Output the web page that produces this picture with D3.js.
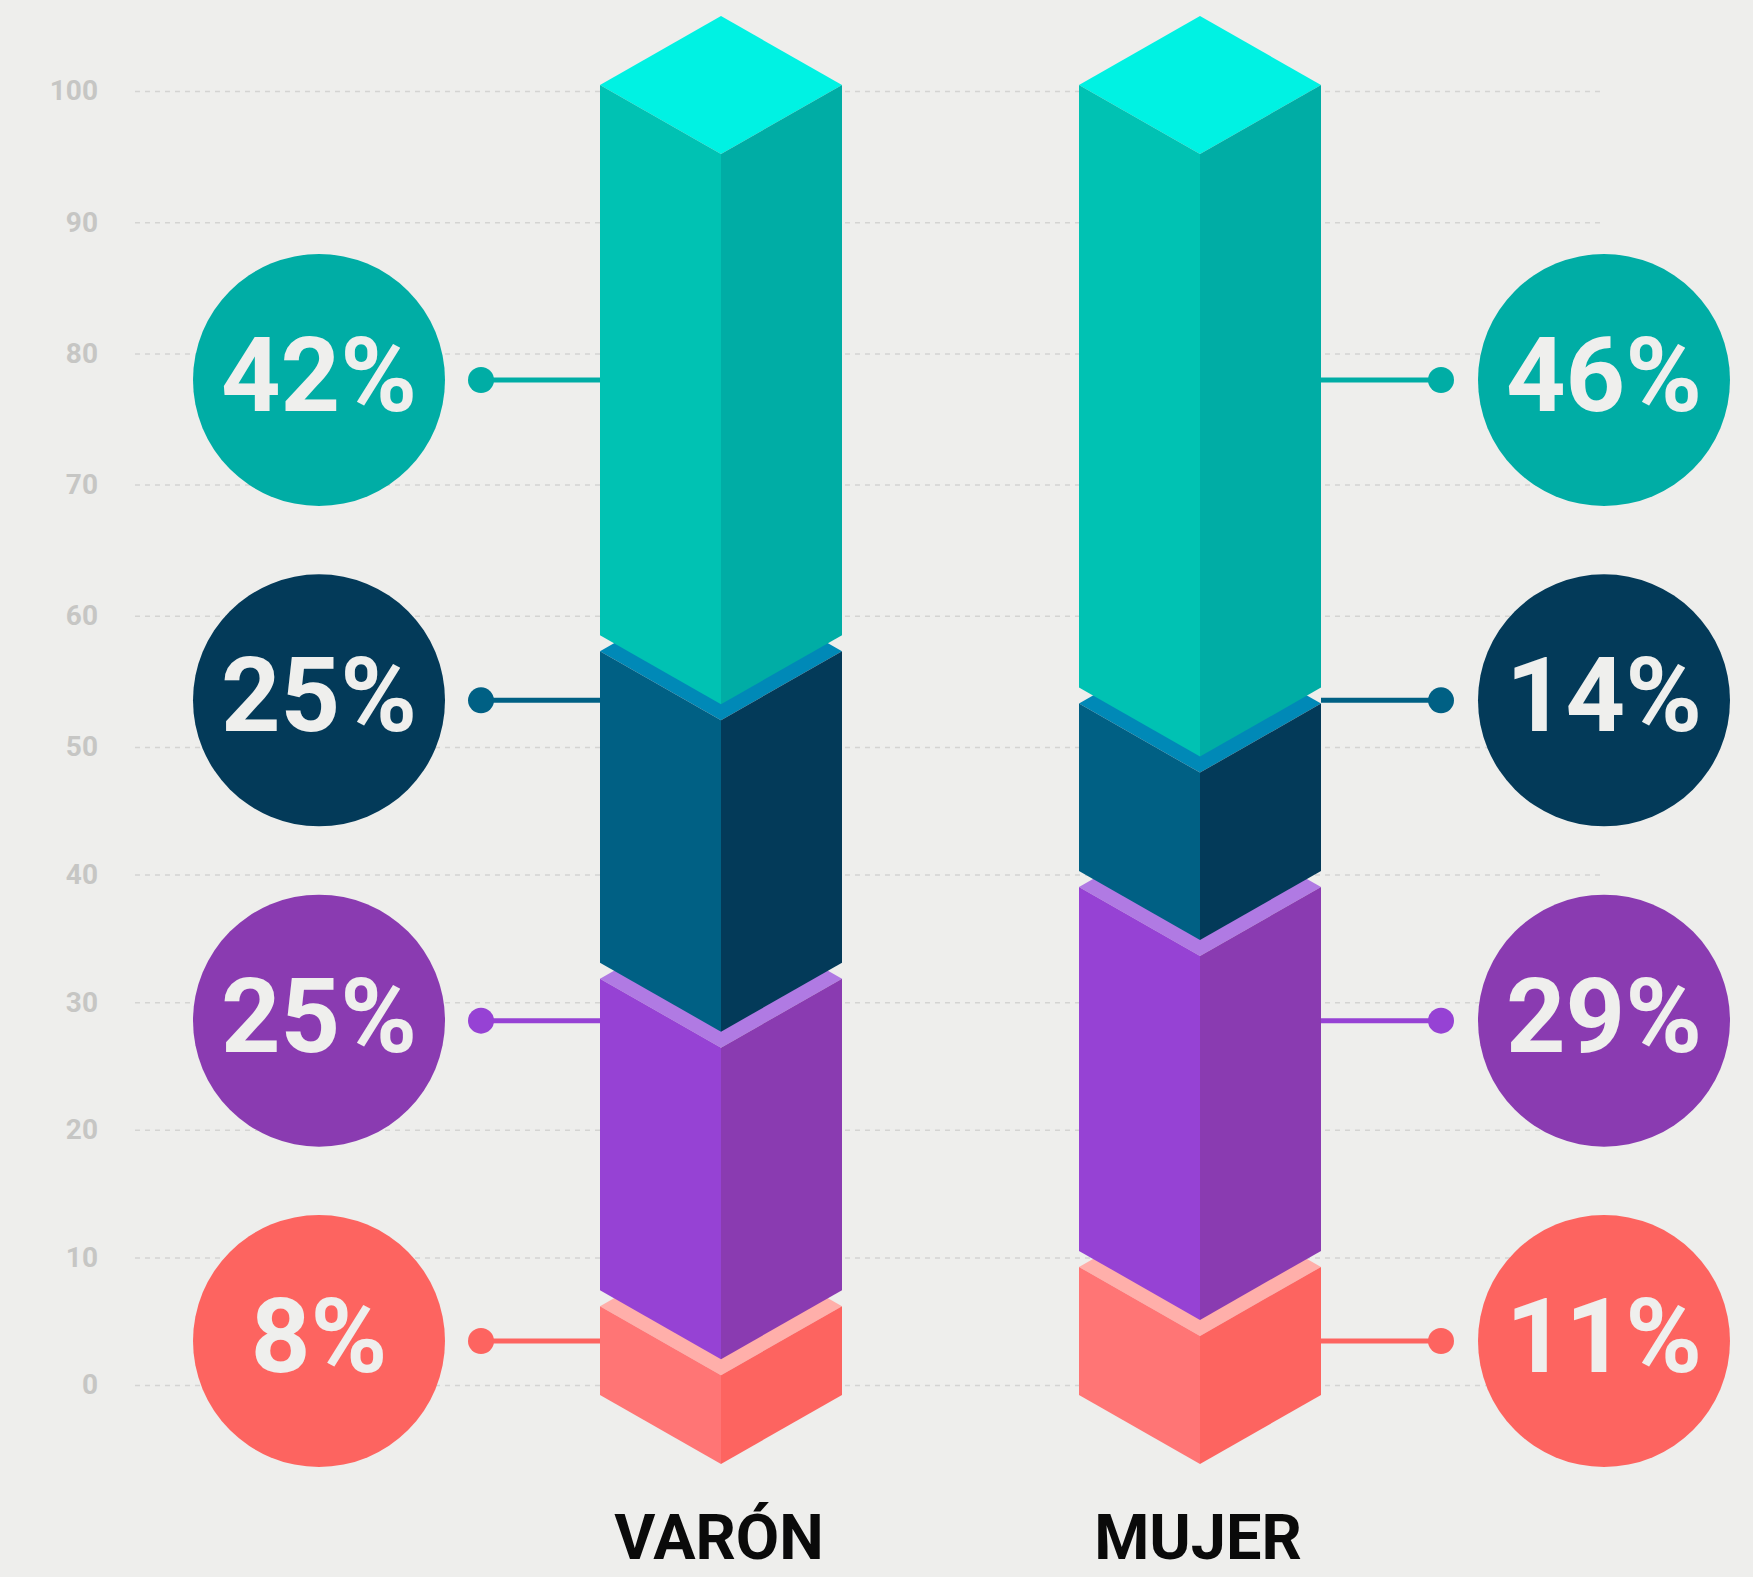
<!DOCTYPE html>
<html>
<head>
<meta charset="utf-8">
<script src="https://cdn.jsdelivr.net/npm/d3@7"></script>
<style>
  html, body { margin: 0; padding: 0; background: #eeeeec; }
  svg { display: block; font-family: Roboto, "Open Sans", sans-serif; }
</style>
</head>
<body>
<svg id="chart" width="1753" height="1577"></svg>
<script>
// categories and values, stacked bottom -> top
const categories = ['VARÓN', 'MUJER'];
const seriesKeys = ['rojo', 'violeta', 'azul', 'turquesa'];
const varonValues = [8, 25, 25, 42];
const mujerValues = [11, 29, 14, 46];
const yTicks = [0, 10, 20, 30, 40, 50, 60, 70, 80, 90, 100];

// face colours per series: left, right, top, bubble, leader
const palette = {
  turquesa: { left: '#00c2b3', right: '#00ada5', top: '#00f2e3', bubble: '#00ada5', line: '#00ada5' },
  azul:     { left: '#006084', right: '#033a59', top: '#0089b7', bubble: '#033a59', line: '#006084' },
  violeta:  { left: '#9642d4', right: '#8a3bb1', top: '#b07ae3', bubble: '#8a3bb1', line: '#9642d4' },
  rojo:     { left: '#ff7575', right: '#fd6460', top: '#ffafaa', bubble: '#fd6460', line: '#fd6460' }
};

const svg = d3.select('#chart');

// grid spacing in the original is a bit wider in the upper half
const y = d3.scaleLinear().domain([0, 50, 100]).range([1385, 747, 91]);
const yBar = d3.scaleLinear().domain([0, 100]).range([1395, 85]);
const x = d3.scalePoint().domain(categories).range([721, 1200]);
// label rows, top series first
const yLabel = d3.scalePoint().domain(seriesKeys.slice().reverse()).range([380, 1341]);

const halfW = 121;          // half width of the box
const isoH = 69;            // isometric drop
const gap = 16;             // space between stacked boxes
const bubbleR = 126;

// grid + tick labels
const axis = d3.axisLeft(y)
  .tickValues(yTicks)
  .tickSize(-(1604 - 135))
  .tickPadding(37);

const gAxis = svg.append('g')
  .attr('transform', 'translate(135,0)')
  .call(axis);
gAxis.select('.domain').remove();
gAxis.selectAll('line')
  .attr('stroke', '#d4d4d2')
  .attr('stroke-width', 1.5)
  .attr('stroke-dasharray', '5,5');
gAxis.selectAll('text')
  .attr('fill', '#c6c6c4')
  .attr('font-size', 28)
  .attr('font-weight', 700)
  .attr('font-family', 'Roboto, sans-serif');

const data = [
  { cat: 'VARÓN', values: varonValues, side: -1, dotX: 481, bubbleX: 319 },
  { cat: 'MUJER', values: mujerValues, side: 1, dotX: 1441, bubbleX: 1604 }
];

data.forEach(d => {
  const stacked = d3.stack().keys(seriesKeys)([Object.fromEntries(seriesKeys.map((k, i) => [k, d.values[i]]))]);
  const cx = x(d.cat);
  const edgeX = cx + d.side * halfW;

  // leader lines and dots (behind bars)
  const leaders = svg.append('g');
  seriesKeys.forEach(k => {
    const ly = yLabel(k);
    leaders.append('line')
      .attr('x1', d.dotX).attr('x2', edgeX)
      .attr('y1', ly).attr('y2', ly)
      .attr('stroke', palette[k].line)
      .attr('stroke-width', 5);
    leaders.append('circle')
      .attr('cx', d.dotX).attr('cy', ly).attr('r', 13)
      .attr('fill', palette[k].line);
  });

  // isometric boxes, bottom first
  const bar = svg.append('g');
  stacked.forEach((s, i) => {
    const k = s.key;
    const c0 = s[0][0], c1 = s[0][1];
    const yt = yBar(c1) + (i < stacked.length - 1 ? gap : 0);
    const yb = yBar(c0);
    const col = palette[k];
    const g = bar.append('g');
    g.append('path')
      .attr('d', `M${cx - halfW},${yt} L${cx},${yt - isoH} L${cx + halfW},${yt} L${cx},${yt + isoH} Z`)
      .attr('fill', col.top);
    g.append('path')
      .attr('d', `M${cx - halfW},${yt} L${cx},${yt + isoH} L${cx},${yb + isoH} L${cx - halfW},${yb} Z`)
      .attr('fill', col.left);
    g.append('path')
      .attr('d', `M${cx},${yt + isoH} L${cx + halfW},${yt} L${cx + halfW},${yb} L${cx},${yb + isoH} Z`)
      .attr('fill', col.right);
  });

  // value bubbles
  const bubbles = svg.append('g');
  seriesKeys.forEach((k, i) => {
    const by = yLabel(k);
    bubbles.append('circle')
      .attr('cx', d.bubbleX).attr('cy', by).attr('r', bubbleR)
      .attr('fill', palette[k].bubble);
    bubbles.append('text')
      .attr('x', d.bubbleX).attr('y', by + 31)
      .attr('text-anchor', 'middle')
      .attr('fill', '#efefed')
      .attr('font-size', 104)
      .attr('font-weight', 700)
      .text(d.values[i] + '%');
  });

  // category label
  svg.append('text')
    .attr('x', cx - 2)
    .attr('y', 1559)
    .attr('text-anchor', 'middle')
    .attr('fill', '#0a0a0a')
    .attr('font-size', 63)
    .attr('font-weight', 700)
    .text(d.cat);
});
</script>
</body>
</html>
